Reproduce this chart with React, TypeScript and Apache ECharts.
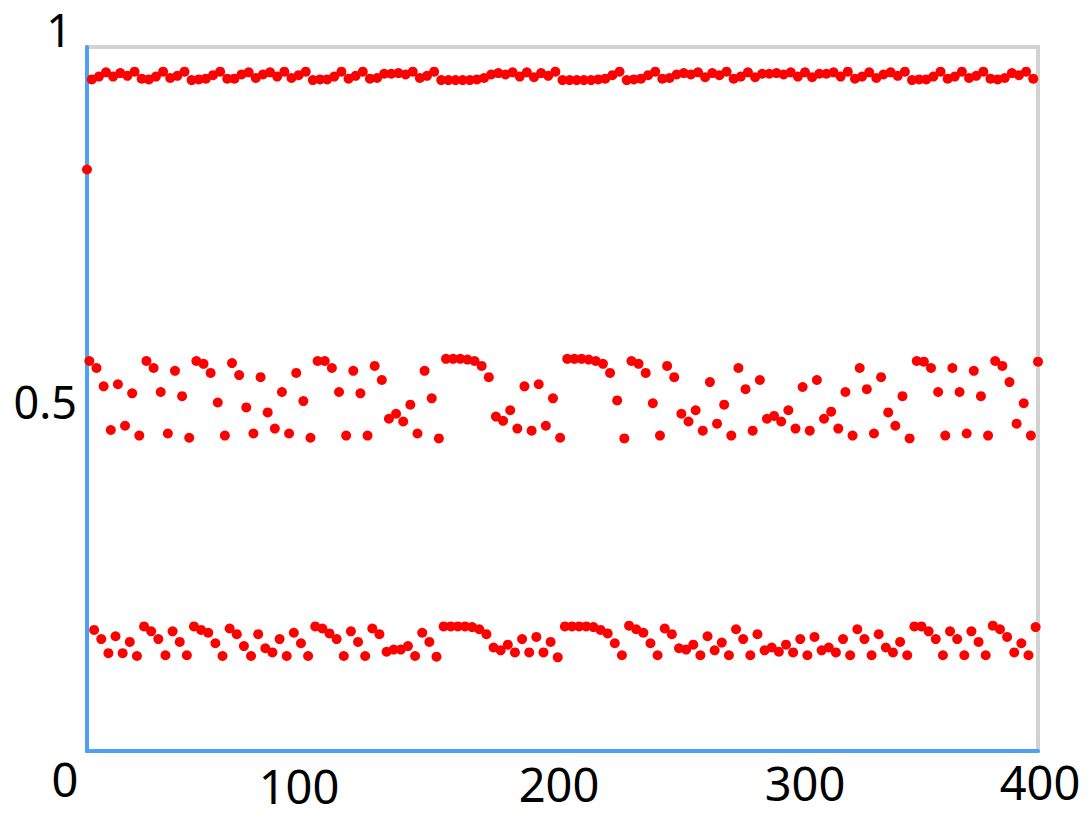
import React, { useEffect, useRef } from "react";
import * as echarts from "echarts";

// Orbit values, one per step x = 0..400.
// After the first value they come in triples: middle band, top band, bottom band.
const firstValue = [0.826];
const orbitTriples: number[][] = [
  [0.554, 0.954, 0.172], [0.544, 0.958, 0.159], [0.518, 0.964, 0.139], [0.456, 0.958, 0.163],
  [0.521, 0.963, 0.139], [0.462, 0.959, 0.155], [0.508, 0.965, 0.135], [0.448, 0.955, 0.177],
  [0.554, 0.954, 0.170], [0.544, 0.958, 0.159], [0.510, 0.965, 0.136], [0.451, 0.956, 0.170],
  [0.540, 0.959, 0.155], [0.504, 0.965, 0.136], [0.445, 0.953, 0.177], [0.554, 0.954, 0.172],
  [0.550, 0.955, 0.168], [0.537, 0.960, 0.153], [0.495, 0.965, 0.135], [0.448, 0.955, 0.174],
  [0.551, 0.955, 0.166], [0.534, 0.961, 0.149], [0.488, 0.964, 0.135], [0.451, 0.956, 0.166],
  [0.531, 0.961, 0.146], [0.481, 0.964, 0.140], [0.458, 0.958, 0.159], [0.510, 0.965, 0.135],
  [0.451, 0.956, 0.168], [0.537, 0.960, 0.153], [0.497, 0.965, 0.135], [0.445, 0.953, 0.177],
  [0.554, 0.954, 0.174], [0.554, 0.954, 0.167], [0.544, 0.958, 0.159], [0.510, 0.965, 0.135],
  [0.448, 0.955, 0.170], [0.540, 0.959, 0.155], [0.508, 0.965, 0.135], [0.448, 0.955, 0.174],
  [0.547, 0.956, 0.166], [0.527, 0.962, 0.141], [0.472, 0.962, 0.144], [0.479, 0.963, 0.144],
  [0.468, 0.961, 0.149], [0.492, 0.965, 0.135], [0.451, 0.956, 0.168], [0.540, 0.959, 0.155],
  [0.501, 0.965, 0.134], [0.444, 0.953, 0.177], [0.557, 0.953, 0.177], [0.557, 0.953, 0.177],
  [0.557, 0.953, 0.177], [0.556, 0.953, 0.176], [0.554, 0.954, 0.173], [0.547, 0.956, 0.166],
  [0.531, 0.961, 0.147], [0.475, 0.963, 0.143], [0.469, 0.961, 0.151], [0.484, 0.964, 0.140],
  [0.458, 0.958, 0.159], [0.518, 0.964, 0.140], [0.455, 0.957, 0.162], [0.521, 0.963, 0.140],
  [0.462, 0.959, 0.155], [0.501, 0.965, 0.133], [0.445, 0.953, 0.177], [0.557, 0.953, 0.177],
  [0.557, 0.953, 0.177], [0.557, 0.953, 0.177], [0.556, 0.953, 0.176], [0.554, 0.954, 0.172],
  [0.550, 0.955, 0.167], [0.537, 0.960, 0.153], [0.498, 0.965, 0.136], [0.444, 0.953, 0.178],
  [0.554, 0.954, 0.173], [0.550, 0.955, 0.168], [0.537, 0.960, 0.153], [0.494, 0.965, 0.136],
  [0.448, 0.955, 0.174], [0.547, 0.956, 0.166], [0.531, 0.961, 0.146], [0.479, 0.963, 0.144],
  [0.468, 0.961, 0.151], [0.484, 0.964, 0.136], [0.455, 0.957, 0.163], [0.524, 0.963, 0.143],
  [0.465, 0.960, 0.154], [0.492, 0.965, 0.136], [0.448, 0.955, 0.173], [0.544, 0.958, 0.159],
  [0.514, 0.964, 0.136], [0.455, 0.957, 0.166], [0.527, 0.962, 0.143], [0.472, 0.962, 0.147],
  [0.476, 0.963, 0.141], [0.468, 0.961, 0.151], [0.484, 0.964, 0.140], [0.458, 0.958, 0.159],
  [0.517, 0.964, 0.136], [0.455, 0.957, 0.162], [0.527, 0.962, 0.143], [0.472, 0.962, 0.147],
  [0.482, 0.964, 0.140], [0.458, 0.958, 0.159], [0.510, 0.965, 0.136], [0.448, 0.955, 0.173],
  [0.544, 0.958, 0.159], [0.514, 0.964, 0.136], [0.451, 0.956, 0.166], [0.531, 0.961, 0.147],
  [0.481, 0.964, 0.140], [0.462, 0.959, 0.155], [0.504, 0.965, 0.136], [0.444, 0.953, 0.177],
  [0.554, 0.954, 0.177], [0.553, 0.954, 0.170], [0.544, 0.958, 0.159], [0.510, 0.965, 0.136],
  [0.448, 0.955, 0.170], [0.544, 0.958, 0.159], [0.510, 0.965, 0.136], [0.451, 0.956, 0.170],
  [0.540, 0.959, 0.155], [0.504, 0.965, 0.136], [0.448, 0.955, 0.178], [0.554, 0.954, 0.173],
  [0.547, 0.956, 0.162], [0.524, 0.963, 0.140], [0.465, 0.960, 0.153], [0.494, 0.965, 0.136],
  [0.448, 0.955, 0.176],
];
const lastValue = [0.553];

const yTickLabels = ["1", "0.5"];
const xTickLabels = ["0", "100", "200", "300", "400"];

const POINT_COLOR = "#ff0000";
const AXIS_BLUE = "#4f9ff5";
const BORDER_GRAY = "#d2d2d2";

export default function App() {
  const ref = useRef<HTMLDivElement>(null);

  useEffect(() => {
    if (!ref.current) return;
    const chart = echarts.init(ref.current, undefined, { renderer: "svg" });
    const values: number[] = [...firstValue, ...orbitTriples.flat(), ...lastValue];
    const data = values.map((v, i) => [i, v]);

    const font = '"Noto Sans", "Open Sans", sans-serif';
    const yLabelPos = [
      { x: 72, y: 29 },
      { x: 77, y: 401 },
    ];
    const xLabelPos = [
      { x: 65, y: 779 },
      { x: 299, y: 786 },
      { x: 559, y: 784 },
      { x: 805, y: 783 },
      { x: 1040, y: 782 },
    ];
    const graphics: any[] = [];
    yTickLabels.forEach((t, k) => {
      graphics.push({
        type: "text",
        x: yLabelPos[k].x,
        y: yLabelPos[k].y,
        style: {
          text: t,
          fontSize: 45,
          lineHeight: 45,
          fontFamily: font,
          fill: "#000",
          textAlign: "right",
          textVerticalAlign: "middle",
        },
      });
    });
    xTickLabels.forEach((t, k) => {
      graphics.push({
        type: "text",
        x: xLabelPos[k].x,
        y: xLabelPos[k].y,
        style: {
          text: t,
          fontSize: 47,
          lineHeight: 47,
          fontFamily: font,
          fill: "#000",
          textAlign: "center",
          textVerticalAlign: "middle",
        },
      });
    });

    chart.setOption({
      animation: false,
      backgroundColor: "#ffffff",
      grid: {
        left: 87,
        top: 47,
        right: 53,
        bottom: 70,
        show: true,
        borderColor: BORDER_GRAY,
        borderWidth: 4,
        backgroundColor: "transparent",
      },
      xAxis: {
        type: "value",
        min: 0,
        max: 400,
        axisLine: { show: true, onZero: false, lineStyle: { color: AXIS_BLUE, width: 4 } },
        axisTick: { show: false },
        axisLabel: { show: false },
        splitLine: { show: false },
      },
      yAxis: {
        type: "value",
        min: 0,
        max: 1,
        axisLine: { show: true, onZero: false, lineStyle: { color: AXIS_BLUE, width: 4 } },
        axisTick: { show: false },
        axisLabel: { show: false },
        splitLine: { show: false },
      },
      graphic: graphics,
      series: [
        {
          type: "scatter",
          data,
          symbol: "circle",
          symbolSize: 10,
          itemStyle: { color: POINT_COLOR, opacity: 1 },
          z: 3,
        },
      ],
    });
    return () => chart.dispose();
  }, []);

  return (
    <div
      ref={ref}
      style={{ position: "fixed", left: 0, top: 0, width: 1091, height: 821, background: "#fff" }}
    />
  );
}
